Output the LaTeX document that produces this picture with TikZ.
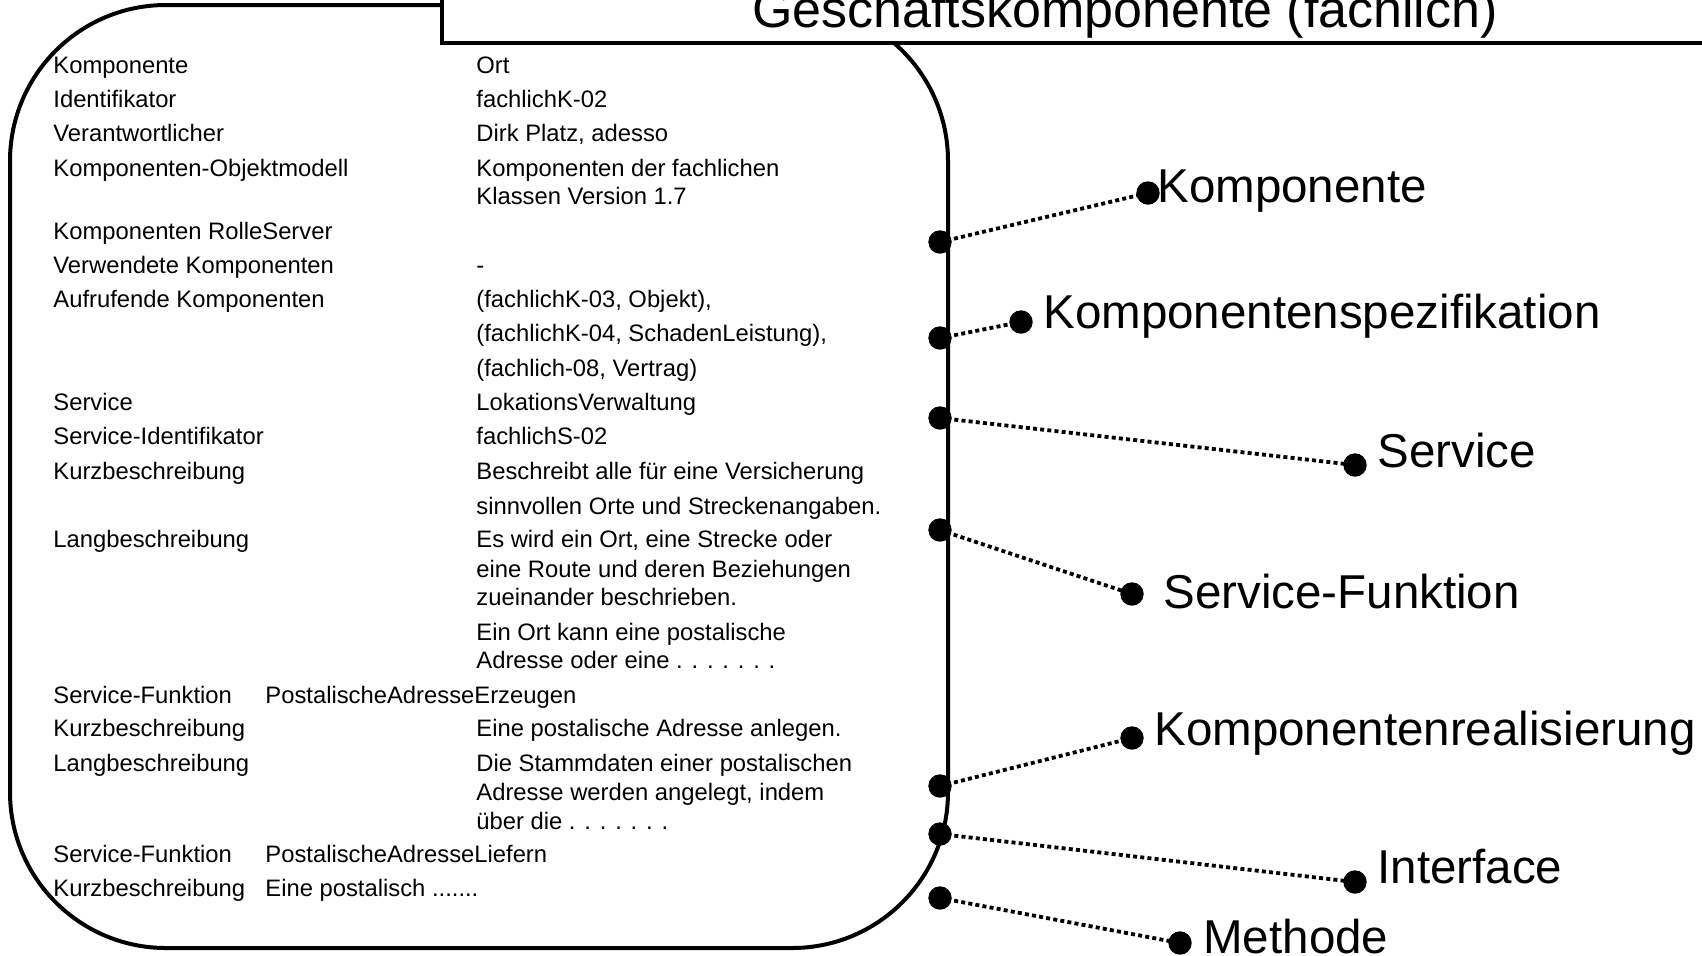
\documentclass[tikz,border=0pt]{standalone}
\usepackage{fontspec}
\setmainfont{Liberation Sans}
\begin{document}
\begin{tikzpicture}[x=0.5pt,y=-0.5pt,
  txt/.style={anchor=base west, inner sep=0pt, font=\fontsize{11.9}{14}\selectfont},
  big/.style={anchor=base west, inner sep=0pt, font=\fontsize{23.75}{28}\selectfont},
  ttl/.style={anchor=base, inner sep=0pt, font=\fontsize{26}{30}\selectfont},
  dotnode/.style={circle, fill=black, inner sep=0pt, minimum size=11.7pt},
  link/.style={line width=1.9pt, dash pattern=on 2pt off 1.6pt},
  frame/.style={line width=2pt, rounded corners=78pt},
  titlebox/.style={line width=1.75pt, fill=white}]
\useasboundingbox (0,0) rectangle (1702,955);
% main rounded frame
\draw[frame] (10,5) rectangle (948,948);
% title box
\draw[titlebox] (442,-40) rectangle (1740,43);
\node[ttl] (title) at (1125,27) {Geschäftskomponente (fachlich)};
% left column
\node[txt] (a1) at (53,73) {Komponente};
\node[txt] (a2) at (53,107) {Identifikator};
\node[txt] (a3) at (53,141.5) {Verantwortlicher};
\node[txt] (a4) at (53,176) {Komponenten-Objektmodell};
\node[txt] (a5) at (53,239) {Komponenten RolleServer};
\node[txt] (a6) at (53,273) {Verwendete Komponenten};
\node[txt] (a7) at (53,307.6) {Aufrufende Komponenten};
\node[txt] (a8) at (53,410.7) {Service};
\node[txt] (a9) at (53,444) {Service-Identifikator};
\node[txt] (a10) at (53,479) {Kurzbeschreibung};
\node[txt] (a11) at (53,547.5) {Langbeschreibung};
\node[txt] (a12) at (53,703) {Service-Funktion};
\node[txt] (a13) at (53,736) {Kurzbeschreibung};
\node[txt] (a14) at (53,771) {Langbeschreibung};
\node[txt] (a15) at (53,862) {Service-Funktion};
\node[txt] (a16) at (53,896) {Kurzbeschreibung};
% value column
\node[txt] (b1) at (476,73) {Ort};
\node[txt] (b2) at (476,107) {fachlichK-02};
\node[txt] (b3) at (476,141.5) {Dirk Platz, adesso};
\node[txt] (b4) at (476,176) {Komponenten der fachlichen};
\node[txt] (b4b) at (476,204.5) {Klassen Version 1.7};
\node[txt] (b6) at (476,273) {-};
\node[txt] (b7) at (476,307.6) {(fachlichK-03, Objekt),};
\node[txt] (b7b) at (476,341) {(fachlichK-04, SchadenLeistung),};
\node[txt] (b7c) at (476,376) {(fachlich-08, Vertrag)};
\node[txt] (b8) at (476,410.7) {LokationsVerwaltung};
\node[txt] (b9) at (476,444) {fachlichS-02};
\node[txt] (b10) at (476,479) {Beschreibt alle für eine Versicherung};
\node[txt] (b10b) at (476,514) {sinnvollen Orte und Streckenangaben.};
\node[txt] (b11) at (476,547.5) {Es wird ein Ort, eine Strecke oder};
\node[txt] (b11b) at (476,577) {eine Route und deren Beziehungen};
\node[txt] (b11c) at (476,605) {zueinander beschrieben.};
\node[txt] (b11d) at (476,640) {Ein Ort kann eine postalische};
\node[txt] (b11e) at (476,668) {Adresse oder eine . . . . . . .};
\node[txt] (b12) at (265,703) {PostalischeAdresseErzeugen};
\node[txt] (b13) at (476,736) {Eine postalische Adresse anlegen.};
\node[txt] (b14) at (476,771) {Die Stammdaten einer postalischen};
\node[txt] (b14b) at (476,800) {Adresse werden angelegt, indem};
\node[txt] (b14c) at (476,829) {über die . . . . . . .};
\node[txt] (b15) at (265,862) {PostalischeAdresseLiefern};
\node[txt] (b16) at (265,896) {Eine postalisch .......};
% dots on the frame
\node[dotnode] (l1) at (940,242) {};
\node[dotnode] (l2) at (940,338) {};
\node[dotnode] (l3) at (940,418) {};
\node[dotnode] (l4) at (940,530) {};
\node[dotnode] (l5) at (940,786) {};
\node[dotnode] (l6) at (940,834) {};
\node[dotnode] (l7) at (940,898) {};
% dots at the labels
\node[dotnode] (r1) at (1148,193) {};
\node[dotnode] (r2) at (1021,322) {};
\node[dotnode] (r3) at (1355,465) {};
\node[dotnode] (r4) at (1132,594) {};
\node[dotnode] (r5) at (1132,738) {};
\node[dotnode] (r6) at (1355,882) {};
\node[dotnode] (r7) at (1180,943) {};
% labels
\node[big] (k1) at (1157,202) {Komponente};
\node[big] (k2) at (1043,328) {Komponentenspezifikation};
\node[big] (k3) at (1377,467) {Service};
\node[big] (k4) at (1163,608) {Service-Funktion};
\node[big] (k5) at (1154,745) {Komponentenrealisierung};
\node[big] (k6) at (1377,883) {Interface};
\node[big] (k7) at (1203,953) {Methode};
% dotted connectors
\foreach \i in {1,...,7} {\draw[link] (l\i.center) -- (r\i.center);}
\end{tikzpicture}
\end{document}
